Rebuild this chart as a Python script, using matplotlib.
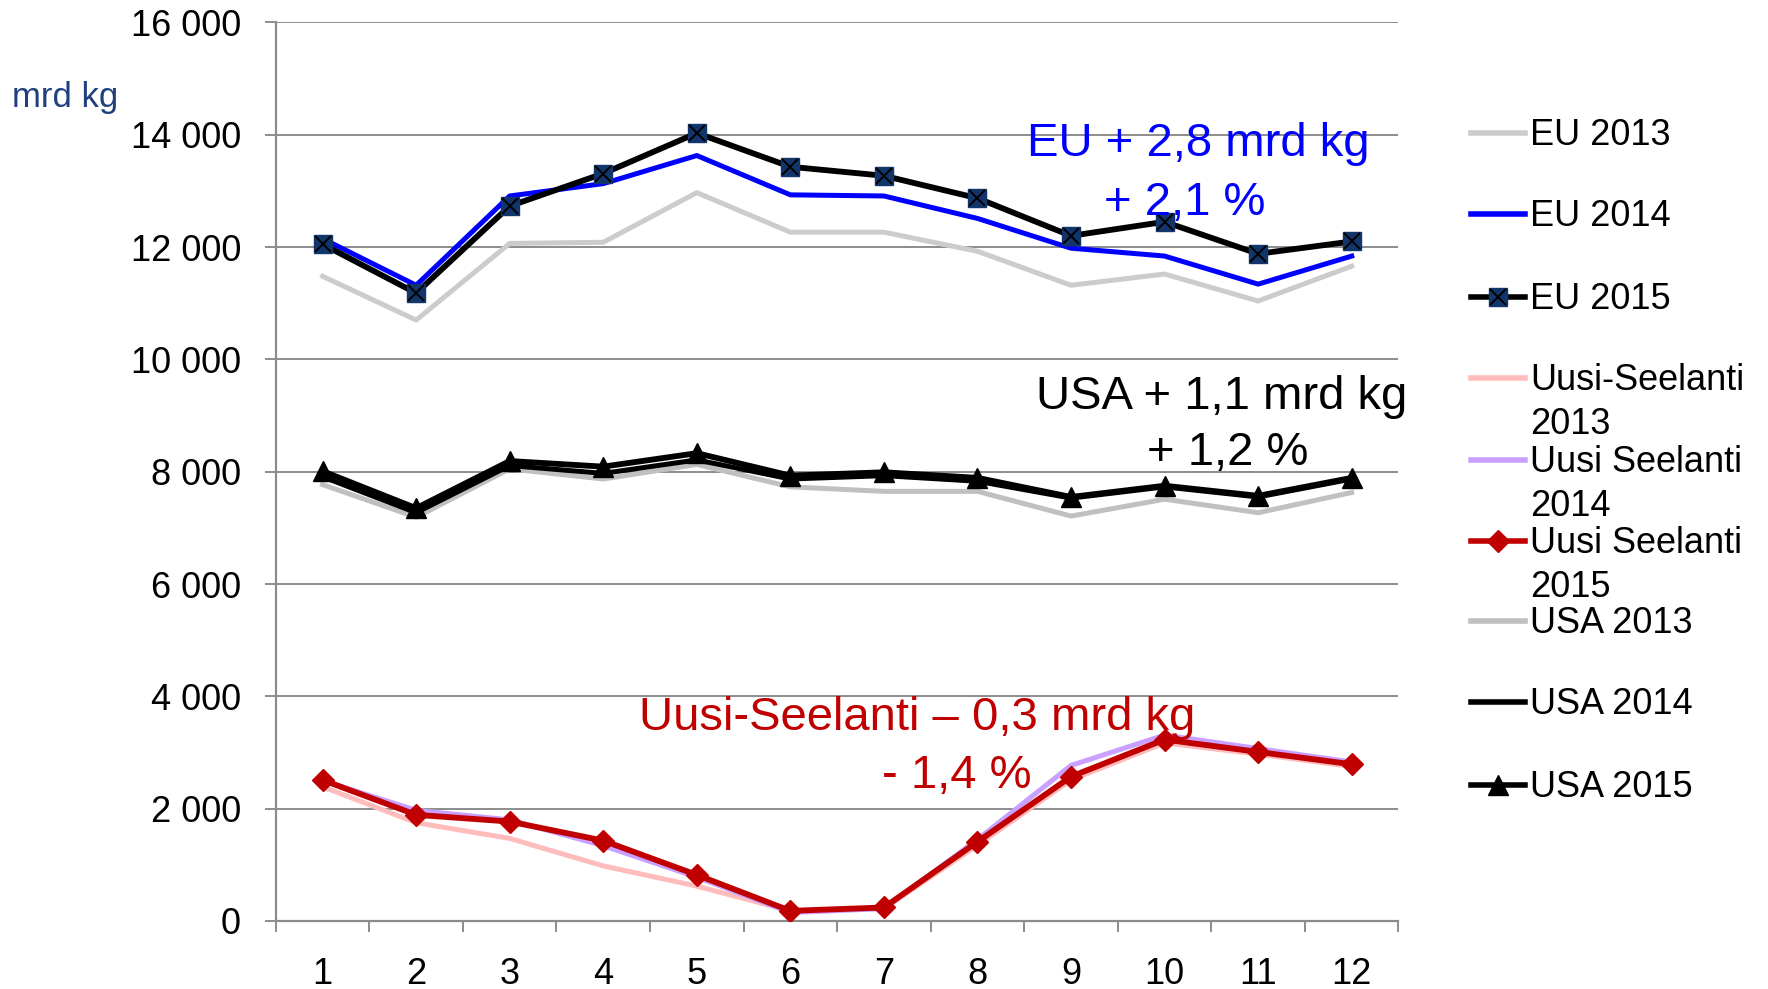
import numpy as np
import matplotlib.pyplot as plt
from matplotlib.lines import Line2D
from matplotlib.ticker import FuncFormatter, FixedLocator

plt.rcParams['font.family'] = ['Liberation Sans', 'DejaVu Sans']

# months
months = np.arange(1, 13)

# monthly milk deliveries, mrd kg
eu_2013 = [11480, 10700, 12065, 12085, 12970, 12265, 12265, 11925, 11320, 11520, 11040, 11660]
eu_2014 = [12150, 11320, 12910, 13130, 13630, 12930, 12910, 12510, 11980, 11840, 11340, 11840]
eu_2015 = [12050, 11180, 12730, 13310, 14030, 13430, 13270, 12870, 12200, 12450, 11880, 12100]

nz_2013 = [2390, 1750, 1470, 980, 620, 180, 220, 1350, 2510, 3170, 2970, 2750]
nz_2014 = [2500, 1970, 1800, 1340, 780, 150, 220, 1450, 2770, 3310, 3070, 2830]
nz_2015 = [2510, 1890, 1770, 1430, 820, 180, 240, 1410, 2570, 3230, 3010, 2790]

usa_2013 = [7770, 7190, 8050, 7870, 8130, 7730, 7650, 7650, 7210, 7510, 7270, 7630]
usa_2014 = [7910, 7270, 8110, 7970, 8210, 7870, 7930, 7830, 7530, 7730, 7550, 7870]
usa_2015 = [8010, 7350, 8190, 8090, 8330, 7930, 7990, 7890, 7550, 7750, 7570, 7890]

series = [
    ("EU 2013", eu_2013, dict(color="#cccccc", lw=3.6)),
    ("EU 2014", eu_2014, dict(color="#0000ff", lw=3.6)),
    ("EU 2015", eu_2015, dict(color="#000000", lw=4.2, marker="s", ms=13,
                              mfc="#12366b", mec="#12366b")),
    ("Uusi-Seelanti\n2013", nz_2013, dict(color="#ffbcbc", lw=3.6)),
    ("Uusi Seelanti\n2014", nz_2014, dict(color="#c9a0ff", lw=3.6)),
    ("Uusi Seelanti\n2015", nz_2015, dict(color="#c00000", lw=4.2, marker="D", ms=11,
                                          mfc="#c00000", mec="#c00000")),
    ("USA 2013", usa_2013, dict(color="#c0c0c0", lw=3.6)),
    ("USA 2014", usa_2014, dict(color="#000000", lw=3.6)),
    ("USA 2015", usa_2015, dict(color="#000000", lw=4.2, marker="^", ms=14,
                                mfc="#000000", mec="#000000")),
]

fig = plt.figure(figsize=(17.68, 9.89), dpi=100)
ax = fig.add_axes([0.156, 0.0688, 0.635, 0.9085])

for label, vals, st in series:
    ax.plot(months, vals, zorder=3, **st)
    if label == "EU 2015":
        ax.plot(months, vals, ls="none", marker="x", ms=11, mew=1.4, color="black", zorder=4)

ax.set_xlim(0.5, 12.5)
ax.set_ylim(0, 16000)
ax.set_yticks(np.arange(0, 16001, 2000))
ax.yaxis.set_major_formatter(FuncFormatter(lambda v, p: f"{int(v):,}".replace(",", " ")))
ax.grid(axis="y", color="#8c8c8c", lw=1.4, zorder=1)

# category boundaries as major ticks, labels on minor ticks
ax.xaxis.set_major_locator(FixedLocator(np.arange(0.5, 13, 1)))
ax.xaxis.set_major_formatter(FuncFormatter(lambda v, p: ""))
ax.xaxis.set_minor_locator(FixedLocator(months))
ax.xaxis.set_minor_formatter(FuncFormatter(lambda v, p: str(int(v))))
ax.tick_params(axis="x", which="major", length=8, width=1.4, color="#8c8c8c", direction="out")
ax.tick_params(axis="x", which="minor", length=0, pad=26, labelsize=26)
ax.tick_params(axis="y", length=8, width=1.4, color="#8c8c8c", pad=17, labelsize=26)

for s in ["top", "right"]:
    ax.spines[s].set_visible(False)
for s in ["left", "bottom"]:
    ax.spines[s].set_color("#8c8c8c")
    ax.spines[s].set_linewidth(1.6)

fig.text(0.037, 1 - 98 / 989, "mrd kg", color="#1f3f7f", fontsize=25, ha="center", va="center")

# annotations
ax.text(10.36, 13830, "EU + 2,8 mrd kg", color="#0000ff", fontsize=34, ha="center", va="center", zorder=5)
ax.text(10.21, 12790, "+ 2,1 %", color="#0000ff", fontsize=34, ha="center", va="center", zorder=5)
ax.text(10.61, 9335, "USA + 1,1 mrd kg", color="black", fontsize=34, ha="center", va="center",
        zorder=5, clip_on=False)
ax.text(10.67, 8330, "+ 1,2 %", color="black", fontsize=34, ha="center", va="center", zorder=5)
ax.text(7.35, 3615, "Uusi-Seelanti \u2013 0,3 mrd kg", color="#c00000", fontsize=34, ha="center",
        va="center", zorder=5)
ax.text(7.78, 2590, "- 1,4 %", color="#c00000", fontsize=34, ha="center", va="center", zorder=5)

# legend drawn by hand so that two-line labels keep the handle on the first line
entry_y = [133, 214, 297, 378, 460, 541, 621, 702, 785]
x0, x1, xt = 1471 / 1768, 1525 / 1768, 1530 / 1768
for (label, vals, st), yy in zip(series, entry_y):
    yf = 1 - yy / 989
    line_st = {k: v for k, v in st.items() if k not in ("marker", "ms", "mfc", "mec")}
    line_st["lw"] = 4.0
    fig.add_artist(Line2D([x0, x1], [yf, yf], transform=fig.transFigure, **line_st))
    if "marker" in st:
        fig.add_artist(Line2D([(x0 + x1) / 2], [yf], transform=fig.transFigure, ls="none",
                              marker=st["marker"], ms=st["ms"], mfc=st["mfc"], mec=st["mec"]))
        if label == "EU 2015":
            fig.add_artist(Line2D([(x0 + x1) / 2], [yf], transform=fig.transFigure, ls="none",
                                  marker="x", ms=11, mew=1.4, color="black"))
    fig.text(xt, yf + 0.015, label, fontsize=26, ha="left", va="top", linespacing=1.32,
             transform=fig.transFigure)

fig.savefig("out.png", dpi=100)
